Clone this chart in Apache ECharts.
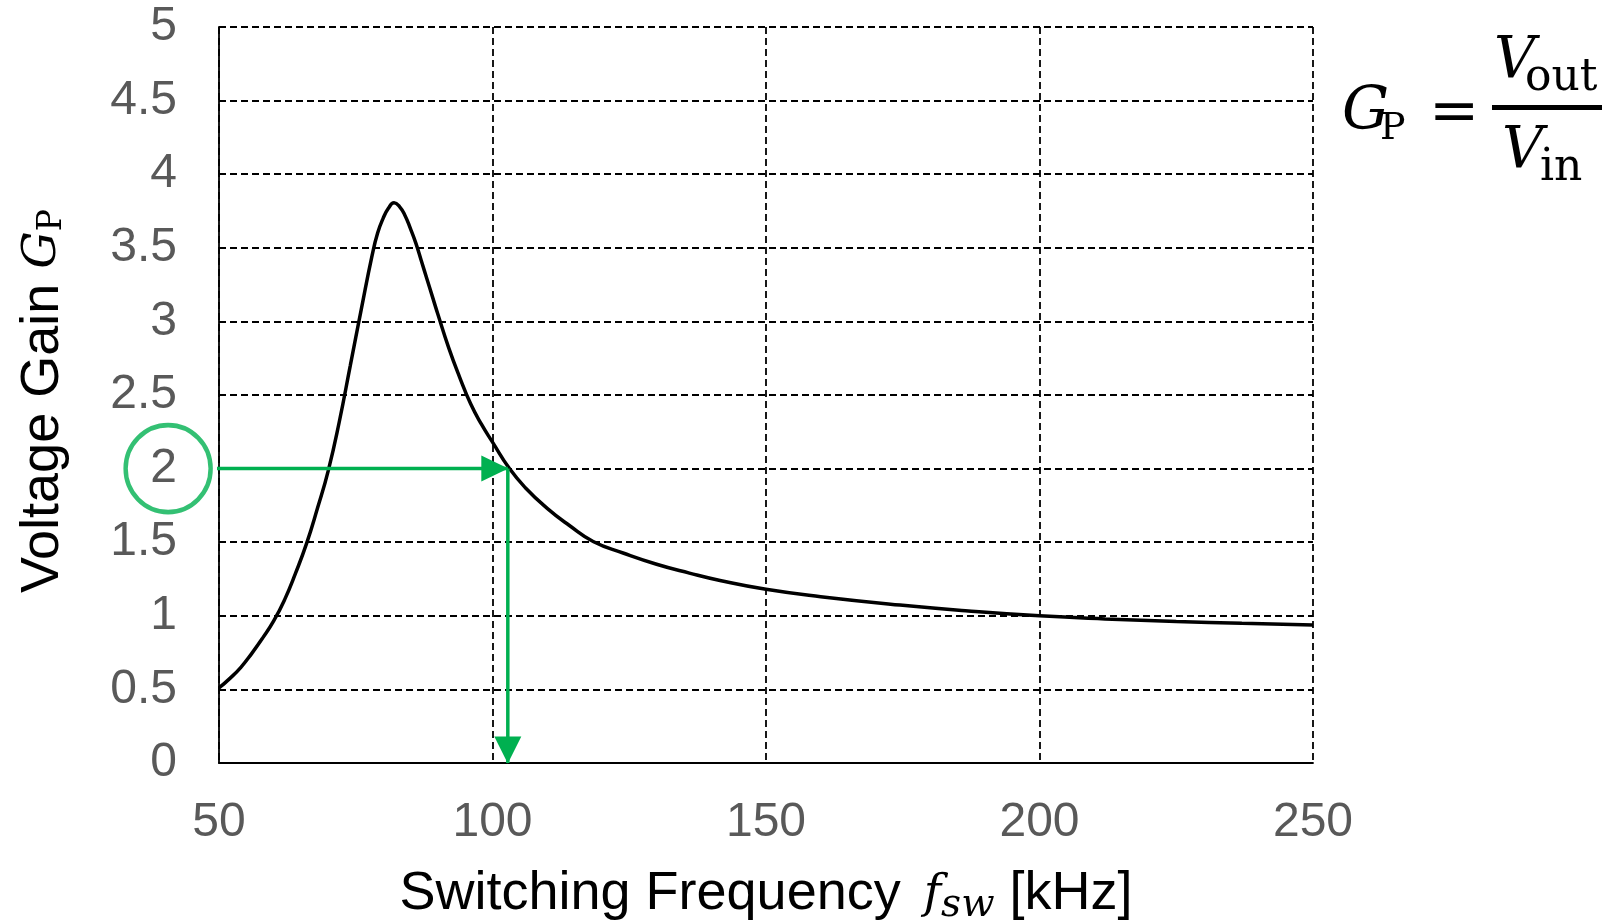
<!DOCTYPE html>
<html><head><meta charset="utf-8">
<script src="https://cdn.jsdelivr.net/npm/echarts@6/dist/echarts.min.js"></script>
<style>html,body{margin:0;padding:0;background:#fff}#c{width:1611px;height:924px}</style>
</head><body><div id="c"></div>
<script>
// ---- data ----
const xMin = 50, xMax = 250, xStep = 50;
const yMin = 0, yMax = 5, yStep = 0.5;
const freq = [50,52,54,56,58,60,62,64,66,68,70,72,74,76,78,79,80,81,82,83,84,85,86,87,88,89,90,92,94,96,98,100,103.1,106,110,114,118.4,124,130,136,141.6,150,160,174.5,187,200,212,225,237,250];
const gain = [0.51,0.575,0.65,0.745,0.85,0.965,1.11,1.29,1.49,1.73,1.99,2.32,2.7,3.08,3.45,3.6,3.7,3.77,3.806,3.78,3.72,3.63,3.53,3.41,3.29,3.17,3.05,2.82,2.62,2.44,2.3,2.18,2.0,1.87,1.73,1.615,1.505,1.425,1.35,1.29,1.24,1.18,1.13,1.073,1.033,1.0,0.979,0.962,0.949,0.937];
const targetGain = 2;
const targetFreq = 102.8;
const arrowStartFreq = 48.9;
const circleFreq = 40.7;

const GREEN = '#00B050';
const curve = freq.map((f, i) => [f, gain[i]]);

const chart = echarts.init(document.getElementById('c'), null, {renderer: 'canvas'});
const serif = 'DejaVu Serif';
chart.setOption({
  animation: false,
  backgroundColor: '#fff',
  grid: {left: 219, right: 298, top: 27, bottom: 161, containLabel: false, outerBoundsMode: 'none'},
  xAxis: {
    type: 'value', min: xMin, max: xMax, interval: xStep,
    axisLine: {show: true, lineStyle: {color: '#000', width: 1.8}},
    axisTick: {show: false},
    splitLine: {show: true, lineStyle: {color: '#000', width: 1.8, type: [7, 4]}},
    axisLabel: {color: '#595959', fontSize: 48, fontFamily: 'Liberation Sans', margin: 36},
    name: 'Switching Frequency {f|f}{s|sw} [kHz]',
    nameLocation: 'middle', nameGap: 101,
    nameTextStyle: {
      color: '#000', fontSize: 54, fontFamily: 'Liberation Sans',
      rich: {
        f: {fontFamily: serif, fontStyle: 'italic', fontSize: 47, color: '#000', padding: [0, 0, 0, 8]},
        s: {fontFamily: serif, fontStyle: 'italic', fontSize: 39, color: '#000', padding: [22, 0, 0, 0]}
      }
    }
  },
  yAxis: {
    type: 'value', min: yMin, max: yMax, interval: yStep,
    axisLine: {show: true, lineStyle: {color: '#000', width: 1.8}},
    axisTick: {show: false},
    splitLine: {show: true, lineStyle: {color: '#000', width: 1.8, type: [7, 4]}},
    axisLabel: {color: '#595959', fontSize: 48, fontFamily: 'Liberation Sans', margin: 42},
    name: 'Voltage Gain {g|G}{p|P}',
    nameLocation: 'middle', nameGap: 149,
    nameTextStyle: {
      color: '#000', fontSize: 54, fontFamily: 'Liberation Sans',
      padding: [0, 12, 0, 0],
      rich: {
        g: {fontFamily: serif, fontStyle: 'italic', fontSize: 47, color: '#000'},
        p: {fontFamily: serif, fontSize: 33, color: '#000', padding: [18, 0, 0, 0]}
      }
    }
  },
  series: [
    {
      type: 'line', data: curve, smooth: 0.5, showSymbol: false, silent: true,
      lineStyle: {color: '#000', width: 3.5}, z: 3
    },
    {
      type: 'line', silent: true, clip: false, z: 5,
      lineStyle: {color: GREEN, width: 3.5}, itemStyle: {color: GREEN},
      data: [
        {value: [arrowStartFreq, targetGain], symbol: 'none'},
        {value: [targetFreq, targetGain], symbol: 'triangle', symbolRotate: -90, symbolSize: [26, 27], symbolOffset: [-13, 0]}
      ]
    },
    {
      type: 'line', silent: true, clip: false, z: 5,
      lineStyle: {color: GREEN, width: 3.5}, itemStyle: {color: GREEN},
      data: [
        {value: [targetFreq, targetGain], symbol: 'none'},
        {value: [targetFreq, yMin], symbol: 'triangle', symbolRotate: 180, symbolSize: [27, 27], symbolOffset: [0, -13]}
      ]
    },
    {
      type: 'scatter', silent: true, clip: false, z: 5,
      symbol: 'circle', symbolSize: [85, 87],
      itemStyle: {color: 'rgba(0,0,0,0)', borderColor: GREEN, borderWidth: 4.5},
      data: [[circleFreq, targetGain]]
    }
  ],
  graphic: [
    {type: 'text', left: 1342, top: 84, style: {text: 'G', font: 'italic 59px "DejaVu Serif"', fill: '#000'}},
    {type: 'text', left: 1380, top: 110, style: {text: 'P', font: '38px "DejaVu Serif"', fill: '#000'}},
    {type: 'text', left: 1429, top: 84, style: {text: '=', font: '60px "DejaVu Serif"', fill: '#000'}},
    {type: 'rect', shape: {x: 1492, y: 105, width: 110, height: 5}, style: {fill: '#000'}},
    {type: 'text', left: 1494, top: 34, style: {text: 'V', font: 'italic 57px "DejaVu Serif"', fill: '#000'}},
    {type: 'text', left: 1525, top: 57, style: {text: 'out', font: '44px "DejaVu Serif"', fill: '#000'}},
    {type: 'text', left: 1502, top: 124, style: {text: 'V', font: 'italic 57px "DejaVu Serif"', fill: '#000'}},
    {type: 'text', left: 1540, top: 147, style: {text: 'in', font: '44px "DejaVu Serif"', fill: '#000'}}
  ]
});
</script></body></html>
